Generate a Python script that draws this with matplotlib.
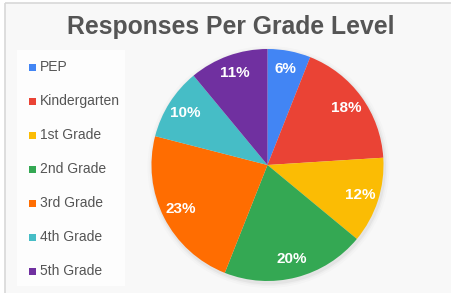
import matplotlib.pyplot as plt
from matplotlib.patches import Rectangle, Circle

labels = ['PEP', 'Kindergarten', '1st Grade', '2nd Grade', '3rd Grade', '4th Grade', '5th Grade']
shares = [6, 18, 12, 20, 23, 10, 11]
colors = ['#4285F4', '#EA4335', '#FBBC04', '#34A853', '#FF6D01', '#46BDC6', '#7030A0']

plt.rcParams['font.family'] = ['Liberation Sans', 'DejaVu Sans']
plt.rcParams['hatch.color'] = '#ededed'
plt.rcParams['hatch.linewidth'] = 0.8

W, H = 452, 293
fig = plt.figure(figsize=(W / 100, H / 100), dpi=100)
fig.patch.set_facecolor('white')

# background panel with faint diagonal texture
bg = fig.add_axes([0, 0, 1, 1])
bg.set_xlim(0, W)
bg.set_ylim(H, 0)
bg.axis('off')
bg.add_patch(Rectangle((5, 3), W, H, facecolor='#f8f8f8', edgecolor='none',
                       hatch='//////', zorder=0))
bg.add_patch(Rectangle((5, 3), W, H, facecolor='none', edgecolor='#d8d8d8',
                       linewidth=1.2, zorder=1))

# legend box
bg.add_patch(Rectangle((17, 50), 108, 236, facecolor='#fdfdfd', edgecolor='none', zorder=2))
for i, (lab, col) in enumerate(zip(labels, colors)):
    y = 67 + i * 34
    bg.add_patch(Rectangle((29, y - 3.5), 7, 7, facecolor=col, edgecolor='none', zorder=3))
    bg.text(40, y, lab, fontsize=10, color='#555555', va='center', ha='left', zorder=3)

# title
bg.text(231, 27, 'Responses Per Grade Level', fontsize=17.8, fontweight='bold',
        color='#555555', ha='center', va='center', zorder=3)

# soft shadow behind pie
cx, cy, r = 267.5, 165, 116
for k, a in zip([5, 3, 1.5], [0.015, 0.025, 0.04]):
    bg.add_patch(Circle((cx + 1, cy + 2), r + k, facecolor='black', alpha=a,
                        edgecolor='none', zorder=2))

ax = fig.add_axes([(cx - r) / W, (H - cy - r) / H, 2 * r / W, 2 * r / H])
ax.set_zorder(5)
wedges, texts, autotexts = ax.pie(shares, colors=colors, startangle=90, counterclock=False,
                                  autopct='%1.0f%%', pctdistance=0.84, radius=1,
                                  wedgeprops=dict(linewidth=0),
                                  textprops=dict(color='white', fontsize=11, fontweight='bold'))
ax.set_xlim(-1, 1)
ax.set_ylim(-1, 1)
ax.set_aspect('equal')

plt.savefig('out.png', dpi=100, facecolor=fig.get_facecolor())
